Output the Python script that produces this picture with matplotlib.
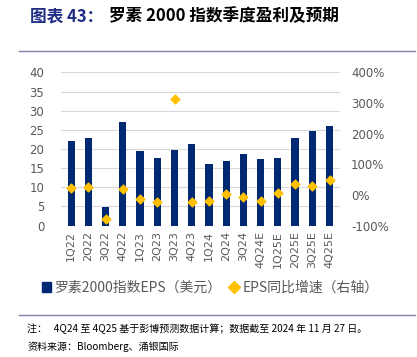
import matplotlib
matplotlib.use("Agg")
import matplotlib.pyplot as plt
from matplotlib.lines import Line2D
from matplotlib.patches import Patch

quarters = ["1Q22", "2Q22", "3Q22", "4Q22", "1Q23", "2Q23", "3Q23", "4Q23",
            "1Q24", "2Q24", "3Q24", "4Q24E", "1Q25E", "2Q25E", "3Q25E", "4Q25E"]
eps = [22.2, 22.9, 4.8, 27.0, 19.5, 17.7, 19.8, 21.2,
       16.2, 16.8, 18.7, 17.3, 17.6, 22.9, 24.6, 25.9]
yoy = [22, 27, -78, 20, -13, -24, 313, -23,
       -18, 2, -6, -19, 8, 36, 30, 49]

left_ticks = [0, 5, 10, 15, 20, 25, 30, 35, 40]
right_ticks = [-100, 0, 100, 200, 300, 400]

CJK = ["Noto Sans CJK SC", "DejaVu Sans"]
plt.rcParams['font.family'] = CJK

navy = "#002873"
gold = "#FFC000"
grey = "#595959"

fig = plt.figure(figsize=(4.17, 3.57), dpi=100)
ax = fig.add_axes([0.146, 0.368, 0.669, 0.429])
x = list(range(len(quarters)))
ax.bar(x, eps, width=0.42, color=navy, zorder=2)
ax.set_ylim(0, 40)
ax.set_yticks(left_ticks)
ax.set_xlim(-0.6, len(quarters) - 0.4)
ax.set_xticks(x)
ax.set_xticklabels(quarters, rotation=90, fontsize=8, color=grey, family="DejaVu Sans")
ax.tick_params(axis='y', length=0, labelsize=8.5, labelcolor=grey, pad=12)
ax.tick_params(axis='x', length=0, labelsize=8, labelcolor=grey, pad=4)
ax.grid(axis='y', color="#D9D9D9", linewidth=0.8, zorder=0)
for s in ax.spines.values():
    s.set_visible(False)

ax2 = ax.twinx()
ax2.scatter(x, yoy, marker='D', s=20, color=gold, zorder=3)
ax2.set_ylim(-100, 400)
ax2.set_yticks(right_ticks)
ax2.set_yticklabels([f"{t}%" for t in right_ticks])
ax2.tick_params(axis='y', length=0, labelsize=8.5, labelcolor=grey, pad=8)
for s in ax2.spines.values():
    s.set_visible(False)
for lab in ax.get_yticklabels() + ax2.get_yticklabels():
    lab.set_family("DejaVu Sans")

handles = [Patch(color=navy), Line2D([], [], marker='D', color=gold, linestyle='None', markersize=6)]
labels = ["罗素2000指数EPS（美元）", "EPS同比增速（右轴）"]
fig.legend(handles, labels, loc='center', bbox_to_anchor=(0.505, 0.193), ncol=2,
           frameon=False, fontsize=10, labelcolor=grey, handlelength=0.6,
           handletextpad=0.3, columnspacing=0.6, prop={'family': CJK, 'size': 10})

# title
fig.text(0.072, 0.955, "图表 43：", fontsize=12, color="#1F2D86", fontweight='bold', va='center')
fig.text(0.262, 0.955, "罗素 2000 指数季度盈利及预期", fontsize=12, color="black", fontweight='bold', va='center')

fig.add_artist(Line2D([0.045, 0.995], [0.857, 0.857], color="#7F7FAA", linewidth=1.0))
fig.add_artist(Line2D([0.045, 0.995], [0.118, 0.118], color="#7F7FAA", linewidth=1.0))

fig.text(0.065, 0.078, "注：   4Q24 至 4Q25 基于彭博预测数据计算；数据截至 2024 年 11 月 27 日。",
         fontsize=7.2, color="black", va='center')
fig.text(0.065, 0.030, "资料来源：Bloomberg、涌银国际", fontsize=7.2, color="black", va='center')

fig.savefig("out.png", dpi=100)
